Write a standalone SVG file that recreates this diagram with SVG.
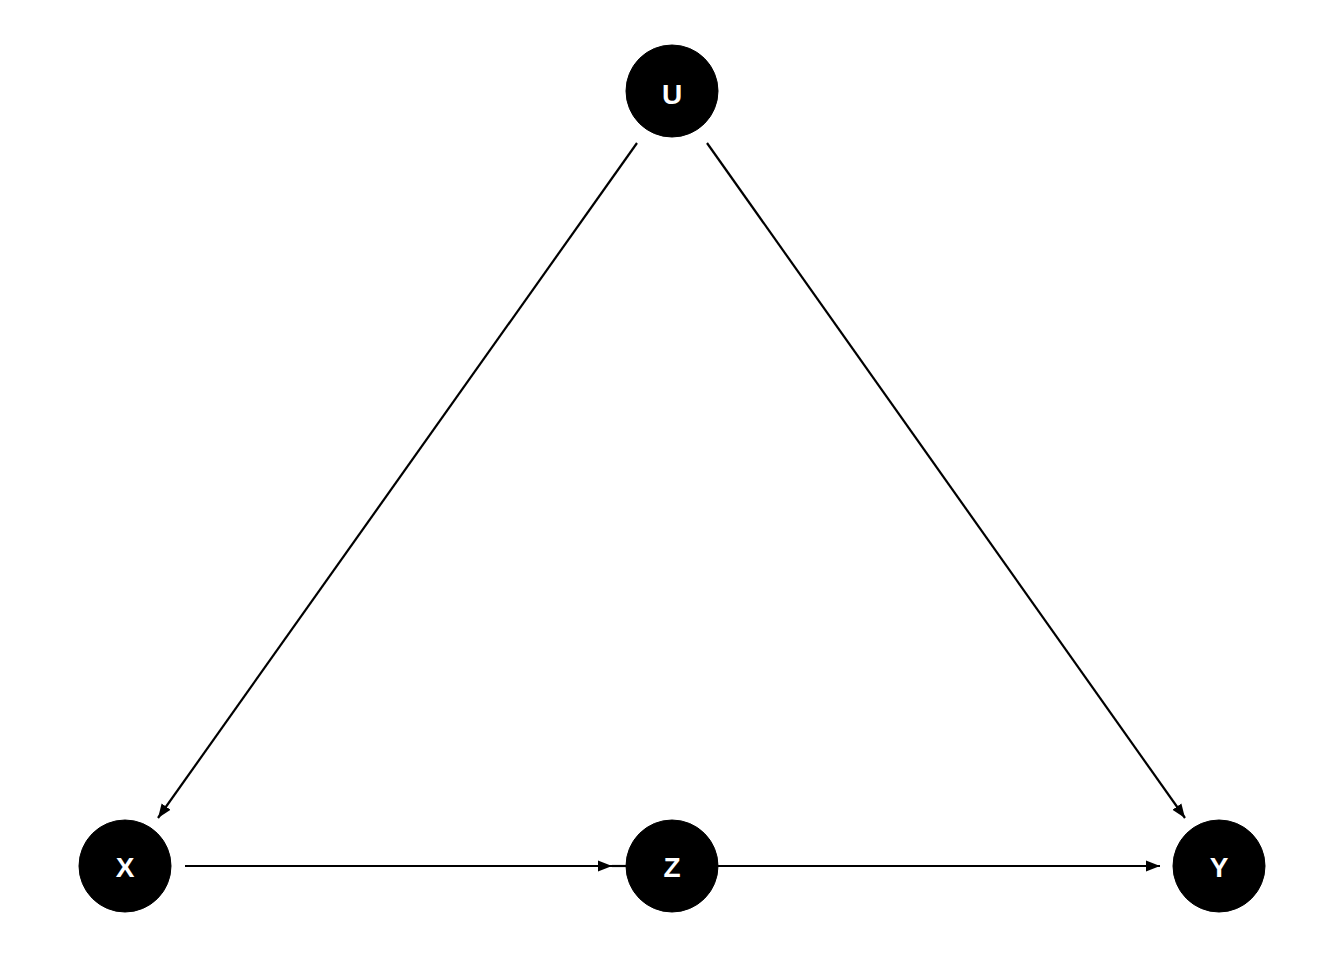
<svg xmlns="http://www.w3.org/2000/svg" width="1344" height="960" viewBox="0 0 1344 960">
<style>
.node circle{fill:#000;stroke:#000;stroke-width:1}
.node text{fill:#fff;font-family:"Liberation Sans",Arial,sans-serif;font-weight:bold;font-size:28px;text-anchor:middle}
.edge{stroke:#000;stroke-width:2.2;fill:none}
</style>
<defs>
<marker id="ah" markerUnits="userSpaceOnUse" viewBox="0 -6 16 12" refX="14" refY="0" markerWidth="16" markerHeight="12" orient="auto">
<path d="M0,-5.5 L14,0 L0,5.5 z" fill="#000"/>
</marker>
</defs>
<rect width="1344" height="960" fill="#fff"/>
<g id="edges">
<line class="edge" x1="637" y1="143" x2="158" y2="818" marker-end="url(#ah)"/>
<line class="edge" x1="707" y1="143" x2="1185" y2="818" marker-end="url(#ah)"/>
<line class="edge" x1="185" y1="866" x2="612" y2="866" marker-end="url(#ah)"/>
<line class="edge" x1="612" y1="866" x2="627" y2="866"/>
<line class="edge" x1="718" y1="866" x2="1160" y2="866" marker-end="url(#ah)"/>
</g>
<g id="node-U" class="node"><circle cx="672" cy="91" r="46"/><text x="672" y="104">U</text></g>
<g id="node-X" class="node"><circle cx="125" cy="866" r="46"/><text x="125" y="877">X</text></g>
<g id="node-Z" class="node"><circle cx="672" cy="866" r="46"/><text x="672" y="877">Z</text></g>
<g id="node-Y" class="node"><circle cx="1219" cy="866" r="46"/><text x="1219" y="877">Y</text></g>
</svg>
